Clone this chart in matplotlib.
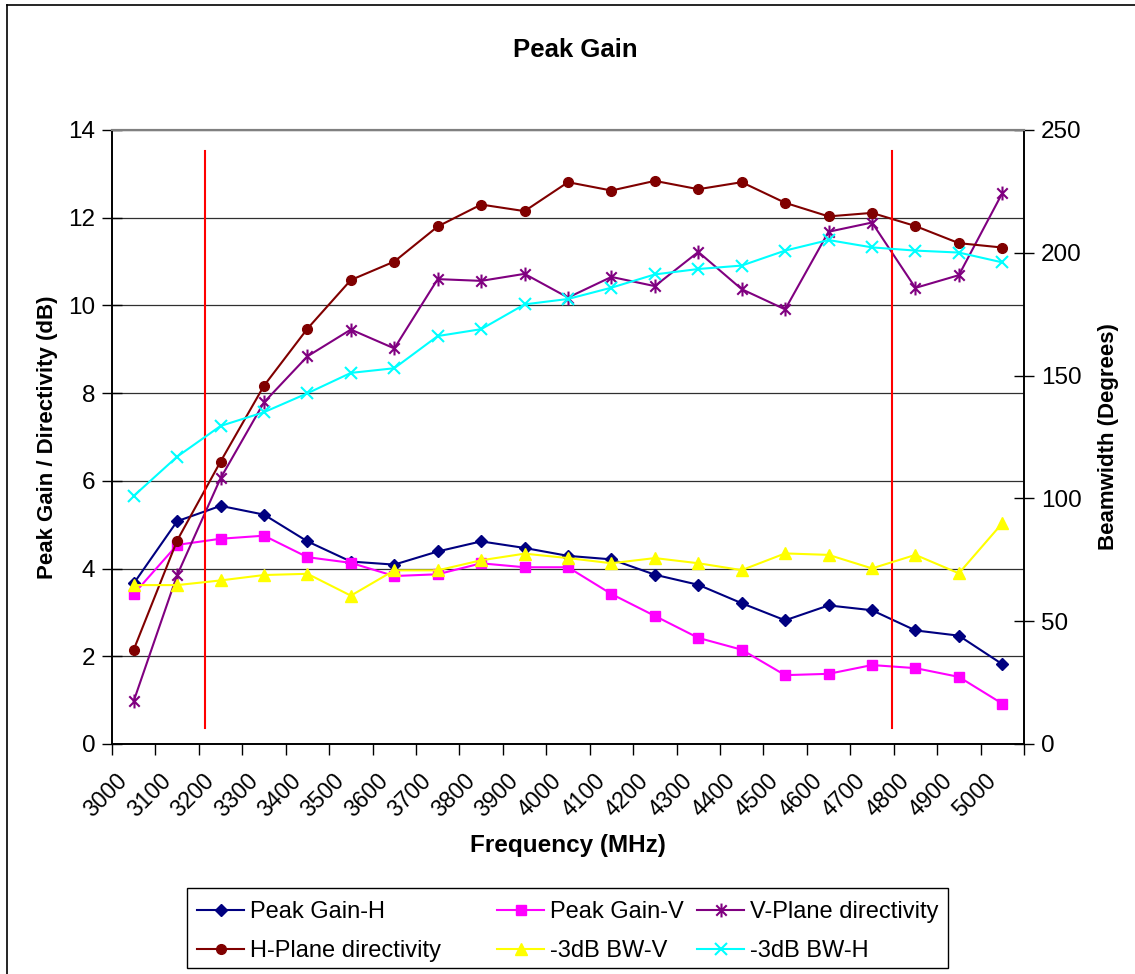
import numpy as np
import matplotlib
matplotlib.use("Agg")
import matplotlib.pyplot as plt
import matplotlib.transforms as mtransforms
from matplotlib.path import Path
from matplotlib.lines import Line2D
from matplotlib.patches import Rectangle

plt.rcParams["font.family"] = ["Liberation Sans", "DejaVu Sans"]

# ---- data ----
freqs = [3000, 3100, 3200, 3300, 3400, 3500, 3600, 3700, 3800, 3900, 4000,
         4100, 4200, 4300, 4400, 4500, 4600, 4700, 4800, 4900, 5000]

peak_gain_h = [3.66, 5.08, 5.43, 5.23, 4.62, 4.16, 4.09, 4.39, 4.62, 4.47, 4.29,
               4.21, 3.86, 3.63, 3.21, 2.82, 3.16, 3.05, 2.59, 2.47, 1.82]
peak_gain_v = [3.42, 4.54, 4.68, 4.75, 4.26, 4.13, 3.83, 3.87, 4.12, 4.03, 4.03,
               3.42, 2.92, 2.42, 2.15, 1.57, 1.60, 1.80, 1.73, 1.53, 0.92]
v_plane_dir = [0.98, 3.85, 6.06, 7.79, 8.84, 9.45, 9.02, 10.60, 10.56, 10.72, 10.18,
               10.65, 10.44, 11.22, 10.37, 9.91, 11.68, 11.89, 10.40, 10.69, 12.56]
h_plane_dir = [2.15, 4.64, 6.44, 8.17, 9.47, 10.58, 11.00, 11.80, 12.30, 12.15, 12.81,
               12.62, 12.84, 12.65, 12.81, 12.34, 12.03, 12.11, 11.81, 11.42, 11.32]
bw_v = [64.7, 64.7, 66.6, 68.8, 69.3, 60.4, 70.7, 70.7, 74.8, 77.5, 75.7,
        73.6, 75.7, 73.6, 70.8, 77.6, 77.0, 71.5, 77.0, 69.5, 89.9]
bw_h = [101.0, 117.0, 129.5, 135.1, 142.8, 151.1, 153.0, 166.1, 168.9, 179.0, 181.2,
        185.8, 191.2, 193.4, 194.8, 200.9, 205.2, 202.2, 200.9, 200.1, 196.1]

# band edges marked in red (MHz) and their vertical extent (dB)
band_edges = [3164, 4745]
band_span = [0.36, 13.53]

# Excel-like star marker (X with a vertical bar)
star = Path([(0, -1), (0, 1), (-0.75, -0.75), (0.75, 0.75), (-0.75, 0.75), (0.75, -0.75)],
            [Path.MOVETO, Path.LINETO, Path.MOVETO, Path.LINETO, Path.MOVETO, Path.LINETO])

W, H = 1135, 974
fig = plt.figure(figsize=(W / 100, H / 100), dpi=100)
ax = fig.add_axes([112 / W, 1 - 744 / H, (1024 - 112) / W, (744 - 130) / H])
ax2 = ax.twinx()

x = np.arange(len(freqs))
step = freqs[1] - freqs[0]

l1, = ax.plot(x, peak_gain_h, color="#000080", marker="D", ms=6.5, lw=1.5,
              label="Peak Gain-H", zorder=5)
l2, = ax.plot(x, peak_gain_v, color="#FF00FF", marker="s", ms=6.5, lw=1.5,
              label="Peak Gain-V", zorder=5)
l3, = ax.plot(x, v_plane_dir, color="#800080", marker=star, ms=10, mew=1.5, lw=1.5,
              label="V-Plane directivity", zorder=5)
l4, = ax.plot(x, h_plane_dir, color="#800000", marker="o", ms=7, lw=1.5,
              label="H-Plane directivity", zorder=5)
l5, = ax2.plot(x, bw_v, color="#FFFF00", marker="^", ms=8, lw=1.5,
               label="-3dB BW-V", zorder=5)
l6, = ax2.plot(x, bw_h, color="#00FFFF", marker="x", ms=9, mew=1.5, lw=1.5,
               label="-3dB BW-H", zorder=5)

for f in band_edges:
    ax.plot([(f - freqs[0]) / step] * 2, band_span, color="red", lw=1.5, zorder=6)

# left axis
ax.set_xlim(-0.5, len(freqs) - 0.5)
ax.set_ylim(0, 14)
ax.set_yticks(np.arange(0, 15, 2))
ax.yaxis.grid(True, color="#303030", lw=0.9)
ax.set_axisbelow(True)
ax.tick_params(axis="y", direction="inout", length=14, width=1, labelsize=17.5, pad=5)
ax.set_ylabel("Peak Gain / Directivity (dB)", fontsize=16, fontweight="bold", labelpad=7)

# category axis: ticks on boundaries, labels at centres
ax.set_xticks(np.arange(-0.5, len(freqs), 1))
ax.set_xticklabels([])
ax.set_xticks(x, minor=True)
ax.set_xticklabels([str(f) for f in freqs], minor=True, rotation=45,
                   ha="right", rotation_mode="anchor", fontsize=16.5)
ax.tick_params(axis="x", which="major", direction="out", length=8, width=1)
ax.tick_params(axis="x", which="minor", length=0, pad=12)
shift = mtransforms.ScaledTranslation(-18 / 100, -9 / 100, fig.dpi_scale_trans)
for lab in ax.get_xticklabels(minor=True):
    lab.set_transform(lab.get_transform() + shift)
ax.set_xlabel("Frequency (MHz)", fontsize=17.5, fontweight="bold", labelpad=9)

# right axis
ax2.set_ylim(0, 250)
ax2.set_yticks(np.arange(0, 251, 50))
ax2.tick_params(axis="y", direction="inout", length=14, width=1, labelsize=17.5, pad=5)
ax2.set_ylabel("Beamwidth (Degrees)", fontsize=16, fontweight="bold", labelpad=12)

for a in (ax, ax2):
    a.spines["top"].set_color("#808080")
    a.spines["top"].set_linewidth(1.5)
    for s in ("left", "right", "bottom"):
        a.spines[s].set_color("black")
        a.spines[s].set_linewidth(1.2)

fig.text(0.507, 1 - 50 / H, "Peak Gain", ha="center", va="center",
         fontsize=18.5, fontweight="bold")

# legend: three columns placed where the reference has them, one frame round all
columns = [(197, [l1, l4]), (497, [l2, l5]), (697, [l3, l6])]
for x0, hs in columns:
    fig.legend(hs, [h.get_label() for h in hs], loc="upper left",
               bbox_to_anchor=(x0 / W, 1 - 901 / H), frameon=False,
               fontsize=17, handlelength=2.0, handletextpad=0.25,
               borderpad=0, labelspacing=0.72, borderaxespad=0)
fig.add_artist(Rectangle((187 / W, 1 - 968 / H), (948 - 187) / W, (968 - 888) / H,
                         transform=fig.transFigure, fill=False, edgecolor="black", lw=1.0))

# outer chart frame (cut off at right/bottom)
fig.add_artist(Line2D([7 / W, 7 / W], [0, 1 - 5 / H], color="black", lw=1.2,
                      transform=fig.transFigure))
fig.add_artist(Line2D([7 / W, 1], [1 - 5 / H, 1 - 5 / H], color="black", lw=1.2,
                      transform=fig.transFigure))

fig.savefig("out.png", dpi=100)
